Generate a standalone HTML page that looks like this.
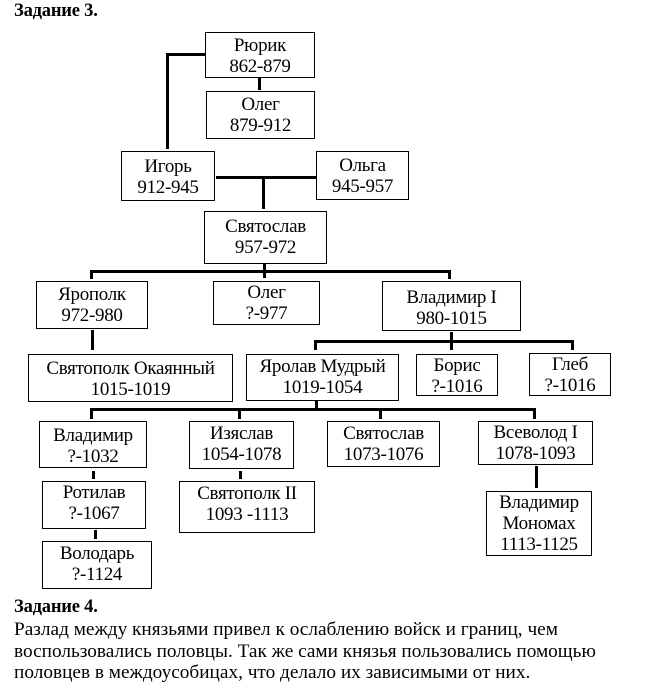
<!DOCTYPE html>
<html><head><meta charset="utf-8"><style>
body{margin:0;width:653px;height:691px;background:#fff;position:relative;overflow:hidden;font-family:"Liberation Serif",serif;color:#000}
.b{position:absolute;border:1px solid #000;box-sizing:border-box;text-align:center;font-size:19px;line-height:21px;padding-top:2px;white-space:nowrap;letter-spacing:-0.3px}
.l{position:absolute;background:#000}
.t{position:absolute;left:14px;font-size:18.5px;white-space:nowrap;letter-spacing:-0.2px}
.p{font-size:19.3px;letter-spacing:0}
</style></head><body>
<div class="t" style="top:1px;font-weight:bold">Задание 3.</div>

<div class="b" style="left:205px;top:32px;width:110px;height:46px">Рюрик<br>862-879</div>
<div class="l" style="left:258px;top:78px;width:3px;height:12px"></div>
<div class="b" style="left:206px;top:91px;width:109px;height:48px">Олег<br>879-912</div>
<div class="l" style="left:166px;top:53px;width:39px;height:3px"></div>
<div class="l" style="left:166px;top:53px;width:3px;height:96px"></div>

<div class="b" style="left:121px;top:151px;width:94px;height:50px;padding-top:4px">Игорь<br>912-945</div>
<div class="b" style="left:316px;top:151px;width:93px;height:49px;padding-top:3px">Ольга<br>945-957</div>
<div class="l" style="left:216px;top:176px;width:100px;height:3px"></div>
<div class="l" style="left:262px;top:176px;width:3px;height:33px"></div>

<div class="b" style="left:204px;top:211px;width:123px;height:53px;padding-top:4px">Святослав<br>957-972</div>
<div class="l" style="left:263px;top:264px;width:3px;height:14px"></div>
<div class="l" style="left:90px;top:270px;width:361px;height:3px"></div>
<div class="l" style="left:90px;top:270px;width:3px;height:9px"></div>
<div class="l" style="left:448px;top:270px;width:3px;height:9px"></div>

<div class="b" style="left:36px;top:281px;width:112px;height:48px">Ярополк<br>972-980</div>
<div class="b" style="left:213px;top:281px;width:107px;height:44px;padding-top:0px">Олег<br>?-977</div>
<div class="b" style="left:382px;top:281px;width:139px;height:50px;padding-top:5px">Владимир I<br>980-1015</div>

<div class="l" style="left:91px;top:330px;width:3px;height:20px"></div>
<div class="l" style="left:450px;top:332px;width:3px;height:12px"></div>
<div class="l" style="left:314px;top:340px;width:260px;height:3px"></div>
<div class="l" style="left:314px;top:340px;width:3px;height:10px"></div>
<div class="l" style="left:450px;top:340px;width:3px;height:10px"></div>
<div class="l" style="left:571px;top:340px;width:3px;height:10px"></div>

<div class="b" style="left:28px;top:354px;width:205px;height:48px;padding-top:3px">Святополк Окаянный<br>1015-1019</div>
<div class="b" style="left:246px;top:354px;width:153px;height:47px;padding-top:1px">Яролав Мудрый<br>1019-1054</div>
<div class="b" style="left:416px;top:354px;width:82px;height:42px;padding-top:0px">Борис<br>?-1016</div>
<div class="b" style="left:529px;top:353px;width:82px;height:43px;padding-top:0px">Глеб<br>?-1016</div>

<div class="l" style="left:315px;top:401px;width:3px;height:9px"></div>
<div class="l" style="left:90px;top:408px;width:446px;height:3px"></div>
<div class="l" style="left:90px;top:408px;width:3px;height:11px"></div>
<div class="l" style="left:238px;top:408px;width:3px;height:11px"></div>
<div class="l" style="left:379px;top:408px;width:3px;height:11px"></div>
<div class="l" style="left:533px;top:408px;width:3px;height:11px"></div>

<div class="b" style="left:39px;top:421px;width:108px;height:47px;padding-top:3px">Владимир<br>?-1032</div>
<div class="b" style="left:189px;top:421px;width:105px;height:48px;padding-top:1px">Изяслав<br>1054-1078</div>
<div class="b" style="left:327px;top:421px;width:113px;height:46px;padding-top:1px">Святослав<br>1073-1076</div>
<div class="b" style="left:478px;top:421px;width:115px;height:44px;padding-top:0px">Всеволод I<br>1078-1093</div>

<div class="l" style="left:92px;top:471px;width:3px;height:8px"></div>
<div class="l" style="left:239px;top:471px;width:3px;height:8px"></div>
<div class="l" style="left:535px;top:466px;width:3px;height:22px"></div>

<div class="b" style="left:42px;top:481px;width:104px;height:48px;padding-top:0px">Ротилав<br>?-1067</div>
<div class="b" style="left:179px;top:481px;width:136px;height:52px;padding-top:1px">Святополк II<br>1093 -1113</div>
<div class="b" style="left:486px;top:491px;width:106px;height:65px;padding-top:0px">Владимир<br>Мономах<br>1113-1125</div>

<div class="l" style="left:94px;top:530px;width:3px;height:9px"></div>
<div class="b" style="left:42px;top:541px;width:110px;height:48px;padding-top:1px">Володарь<br>?-1124</div>

<div class="t" style="top:597px;font-weight:bold">Задание 4.</div>
<div class="t p" style="top:619px;line-height:21.5px">Разлад между князьями привел к ослаблению войск и границ, чем<br>воспользовались половцы. Так же сами князья пользовались помощью<br>половцев в междоусобицах, что делало их зависимыми от них.</div>
</body></html>
